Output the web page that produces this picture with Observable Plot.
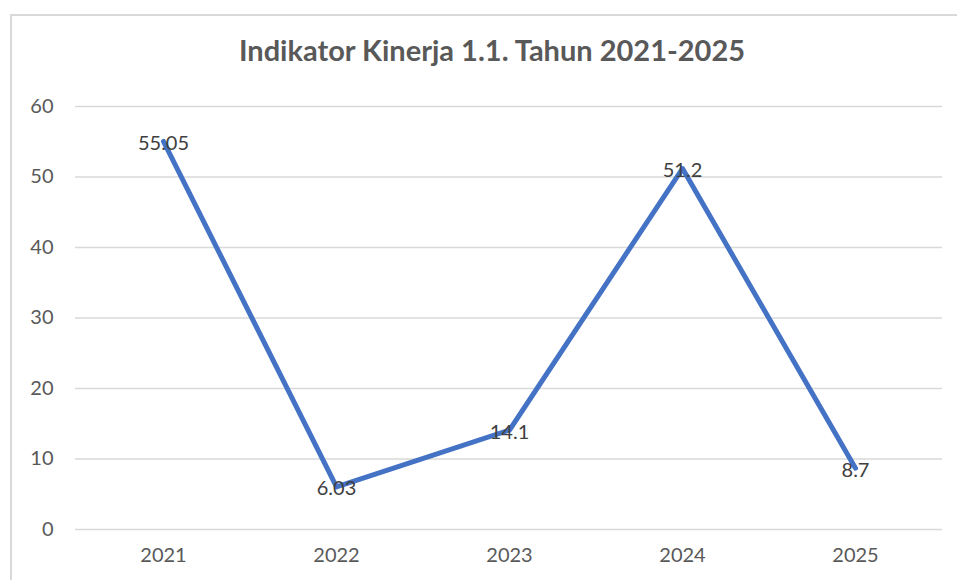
<!DOCTYPE html>
<html><head><meta charset="utf-8">
<script src="https://cdn.jsdelivr.net/npm/d3@7"></script>
<script src="https://cdn.jsdelivr.net/npm/@observablehq/plot@0.6"></script>
<style>
body{margin:0;background:#fff;}
#wrap{position:relative;width:957px;height:580px;overflow:hidden;}
#border{position:absolute;left:10px;top:14px;width:960px;height:600px;border-top:2px solid #d9d9d9;border-left:2px solid #d9d9d9;pointer-events:none;}
</style></head>
<body><div id="wrap"><div id="chart"></div><div id="border"></div></div>
<script>
const years = ["2021","2022","2023","2024","2025"];
const values = [55.05, 6.03, 14.1, 51.2, 8.7];
const labels = ["55.05","6.03","14.1","51.2","8.7"];
const yTicks = [0,10,20,30,40,50,60];
const title = "Indikator Kinerja 1.1. Tahun 2021-2025";

const data = years.map((y,i)=>({year:y, value:values[i], label:labels[i]}));

const chart = Plot.plot({
  width: 957, height: 580,
  marginLeft: 75, marginRight: 15, marginTop: 106, marginBottom: 51,
  style: {fontFamily: "Lato, 'Open Sans', sans-serif", fontSize: "19px", color: "#595959", background: "transparent"},
  x: {type: "point", domain: years, padding: 0.5, label: null},
  y: {domain: [0, 60], ticks: yTicks, label: null},
  marks: [
    Plot.gridY(yTicks, {stroke: "#d9d9d9", strokeOpacity: 1, strokeWidth: 1.5}),
    Plot.axisY(yTicks, {tickSize: 0, tickPadding: 22, fontSize: 20, fill: "#595959", label: null}),
    Plot.axisX({tickSize: 0, tickPadding: 18, fontSize: 20, fill: "#595959", label: null}),
    Plot.line(data, {x: "year", y: "value", stroke: "#4472C4", strokeWidth: 5, strokeLinecap: "round", strokeLinejoin: "round"}),
    Plot.text(data, {x: "year", y: "value", text: "label", fontSize: 20, fill: "#404040", dy: 2}),
    Plot.text([title], {frameAnchor: "top", dy: -66, dx: -17, fontSize: 29, fontWeight: "bold", fill: "#595959"})
  ]
});
document.getElementById("chart").appendChild(chart);
</script></body></html>
